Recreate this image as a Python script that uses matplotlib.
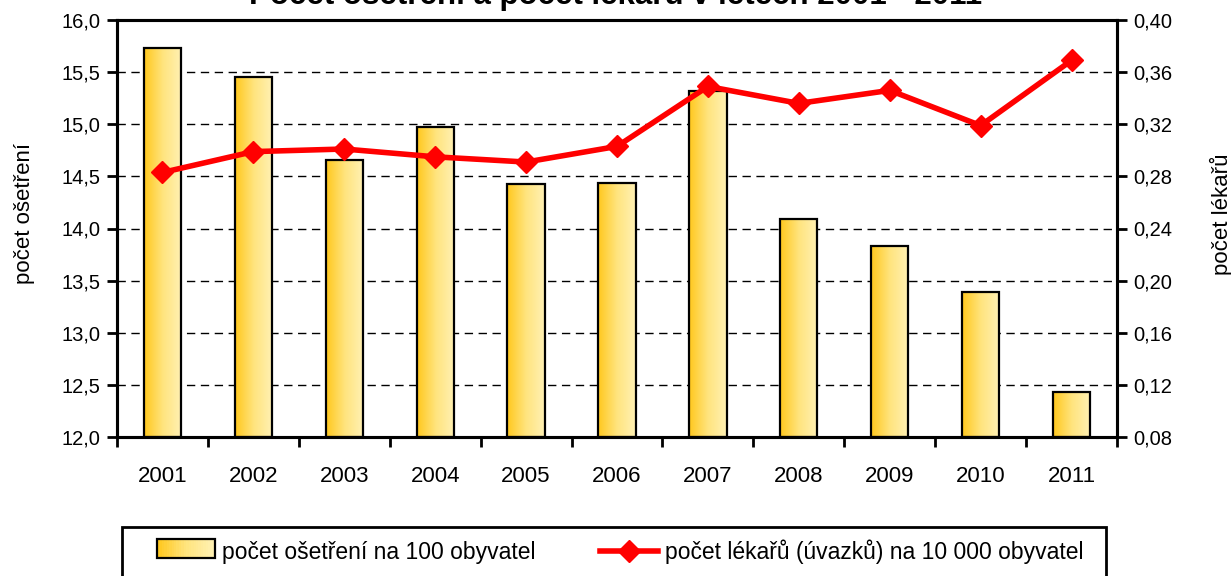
import numpy as np
import matplotlib.pyplot as plt
from matplotlib.patches import Rectangle
from matplotlib.legend_handler import HandlerBase
from matplotlib.colors import LinearSegmentedColormap

plt.rcParams['font.family'] = ['Liberation Sans', 'DejaVu Sans']

years = ['2001', '2002', '2003', '2004', '2005', '2006', '2007', '2008', '2009', '2010', '2011']
osetreni = [15.73, 15.45, 14.66, 14.97, 14.43, 14.44, 15.32, 14.09, 13.83, 13.39, 12.43]
lekari = [0.283, 0.299, 0.301, 0.295, 0.291, 0.303, 0.349, 0.336, 0.346, 0.319, 0.369]

title = 'Počet ošetření a počet lékařů v letech 2001 - 2011'
label_bar = 'počet ošetření na 100 obyvatel'
label_line = 'počet lékařů (úvazků) na 10 000 obyvatel'

grad = LinearSegmentedColormap.from_list('g', ['#FFC81E', '#FFE47E', '#FFF1B4'])

W, H = 1231, 576
fig = plt.figure(figsize=(W/100, H/100), dpi=100)
ax = fig.add_axes([117/W, 1 - 437/H, 1000/W, 417/H])
ax2 = ax.twinx()

ybase = 12.0
x = np.arange(len(years))
w = 0.41
bars = ax.bar(x, np.array(osetreni) - ybase, bottom=ybase, width=w, color='none',
              edgecolor='black', linewidth=1.6, zorder=3)
# gradient fill of each bar, clipped to the bar
gimg = np.linspace(0, 1, 64).reshape(1, -1)
for b in bars:
    bx, by = b.get_x(), b.get_y()
    im = ax.imshow(gimg, cmap=grad, aspect='auto', zorder=2,
                   extent=[bx, bx + b.get_width(), by, by + b.get_height()])
    im.set_clip_path(b)

ax.set_xlim(-0.5, len(years) - 0.5)
ax.set_ylim(12.0, 16.0)
yt = np.arange(12.0, 16.01, 0.5)
ax.set_yticks(yt)
ax.set_yticklabels([f'{v:.1f}'.replace('.', ',') for v in yt])
ax.set_xticks(x)
ax.set_xticklabels(years)
ax.set_xticks(np.arange(-0.5, len(years)), minor=True)
ax.tick_params(axis='x', which='major', length=0, pad=21, labelsize=16)
ax.tick_params(axis='x', which='minor', length=7, width=2, direction='out')
ax.tick_params(axis='y', length=7, width=2, direction='out', labelsize=14.5, pad=5)
ax.yaxis.grid(True, linestyle=(0, (6, 4)), color='black', linewidth=1)
ax.set_axisbelow(True)
ax.set_ylabel('počet ošetření', fontsize=16)
ax.yaxis.set_label_coords(-0.082, 0.535)

ax2.plot(x, lekari, color='red', linewidth=4, marker='D', markersize=11, zorder=5)
ax2.set_ylim(0.08, 0.40)
yt2 = np.arange(0.08, 0.401, 0.04)
ax2.set_yticks(yt2)
ax2.set_yticklabels([f'{v:.2f}'.replace('.', ',') for v in yt2])
ax2.tick_params(axis='y', length=7, width=2, direction='out', labelsize=14.5, pad=5)
ax2.set_ylabel('počet lékařů', fontsize=16)
ax2.yaxis.set_label_coords(1.093, 0.535)

for a in (ax, ax2):
    for s in a.spines.values():
        s.set_linewidth(2.2)
ax.set_zorder(1)
ax2.set_zorder(2)
ax2.patch.set_visible(False)

# title sits partly above the top edge, as in the original
fig.text(0.5, 1 - 4/H, title, ha='center', va='baseline', fontsize=22.5, fontweight='bold')


class GradHandler(HandlerBase):
    def create_artists(self, legend, orig, xd, yd, width, height, fontsize, trans):
        arts = []
        n = 24
        for i in range(n):
            arts.append(Rectangle((xd + width * i / n, yd), width / n + 0.3, height,
                                  facecolor=grad(i / (n - 1)), edgecolor='none', transform=trans))
        arts.append(Rectangle((xd, yd), width, height, facecolor='none',
                              edgecolor='black', linewidth=1.6, transform=trans))
        return arts


# legend frame drawn separately (runs off the bottom edge)
fig.patches.append(Rectangle((122/W, -0.05), (1106-122)/W, 0.05 + 1 - 527/H,
                             transform=fig.transFigure, facecolor='white',
                             edgecolor='black', linewidth=2))

line_handle = plt.Line2D([], [], color='red', linewidth=4, marker='D', markersize=11)
bar_handle = Rectangle((0, 0), 1, 1)
leg = fig.legend([bar_handle, line_handle], [label_bar, label_line], ncol=2,
                 loc='center left', bbox_to_anchor=(157/W, 1 - 552/H),
                 fontsize=16.5, frameon=False, borderpad=0, borderaxespad=0,
                 handler_map={Rectangle: GradHandler()}, handlelength=2.55,
                 handleheight=0.9, columnspacing=2.8, handletextpad=0.3)

fig.savefig('out.png', dpi=100)
